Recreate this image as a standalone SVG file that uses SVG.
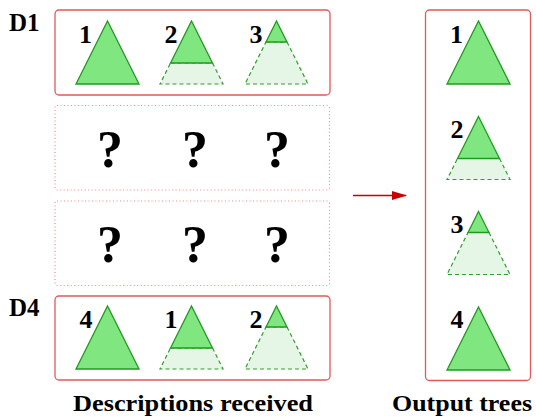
<svg xmlns="http://www.w3.org/2000/svg" xmlns:xlink="http://www.w3.org/1999/xlink" width="536" height="418" viewBox="0 0 536 418">
<style>
.box{fill:none;stroke:#e05a5a;stroke-width:1.3}
.dot{fill:none;stroke:#f08a8a;stroke-width:1.2;stroke-dasharray:1 2.5}
.solid{fill:#80e680;stroke:#1f9a1f;stroke-width:1.3;stroke-linejoin:miter}
.faded{fill:#e6f6e6;stroke:#2fa02f;stroke-width:1.2;stroke-dasharray:4 3}
.lbl{font-family:"Liberation Serif","Times New Roman",serif;font-weight:bold;fill:#000}
.num{font-size:26px;text-anchor:middle}
.q{font-size:52px;text-anchor:middle}
.cap{font-size:25px}
.foot{font-size:24px}
</style>
<defs>
<g id="full"><path class="solid" d="M0,0 L31.5,63 L-31.5,63 Z"/></g>
<g id="two">
<path class="faded" d="M-21,42 L21,42 L31.5,63 L-31.5,63 Z"/>
<path class="solid" d="M0,0 L21,42 L-21,42 Z"/>
</g>
<g id="one">
<path class="faded" d="M-10.5,21 L10.5,21 L31.5,63 L-31.5,63 Z"/>
<path class="solid" d="M0,0 L10.5,21 L-10.5,21 Z"/>
</g>
<marker id="ah" markerWidth="15" markerHeight="9" refX="14" refY="4.5" orient="auto" markerUnits="userSpaceOnUse">
<path d="M0,0 L15,4.5 L0,9 Z" fill="#cc0000"/>
</marker>
</defs>

<g id="D1">
<rect class="box" x="55" y="10" width="275" height="85" rx="4"/>
<text class="lbl cap" x="9" y="31">D1</text>
<use xlink:href="#full" href="#full" x="107.5" y="21"/>
<use xlink:href="#two" href="#two" x="191.5" y="21"/>
<use xlink:href="#one" href="#one" x="276.5" y="21"/>
<text class="lbl num" x="85.5" y="42.5">1</text>
<text class="lbl num" x="171" y="42.5">2</text>
<text class="lbl num" x="256" y="42.5">3</text>
</g>

<g id="D2">
<rect class="dot" x="55" y="105.5" width="274.5" height="84.5" rx="2"/>
<text class="lbl q" x="110" y="166.5">?</text>
<text class="lbl q" x="195" y="166.5">?</text>
<text class="lbl q" x="277" y="166.5">?</text>
</g>

<g id="D3">
<rect class="dot" x="55" y="201" width="274.5" height="84.5" rx="2"/>
<text class="lbl q" x="110" y="261.5">?</text>
<text class="lbl q" x="195" y="261.5">?</text>
<text class="lbl q" x="277" y="261.5">?</text>
</g>

<g id="D4">
<rect class="box" x="55" y="296" width="275" height="84" rx="4"/>
<text class="lbl cap" x="9" y="316">D4</text>
<use xlink:href="#full" href="#full" x="107.5" y="306"/>
<use xlink:href="#two" href="#two" x="191.5" y="306"/>
<use xlink:href="#one" href="#one" x="276.5" y="306"/>
<text class="lbl num" x="86" y="328">4</text>
<text class="lbl num" x="171" y="328">1</text>
<text class="lbl num" x="256" y="328">2</text>
</g>

<g id="output">
<rect class="box" x="425.5" y="10" width="105" height="370.5" rx="4"/>
<use xlink:href="#full" href="#full" x="478.5" y="21"/>
<use xlink:href="#two" href="#two" x="478.5" y="116.5"/>
<use xlink:href="#one" href="#one" x="478.5" y="211.5"/>
<use xlink:href="#full" href="#full" x="478.5" y="307"/>
<text class="lbl num" x="456.5" y="42.5">1</text>
<text class="lbl num" x="457" y="137.5">2</text>
<text class="lbl num" x="457" y="233">3</text>
<text class="lbl num" x="457" y="328">4</text>
</g>

<g id="connectors">
<line x1="353" y1="195.5" x2="406" y2="195.5" stroke="#cc0000" stroke-width="1.6" marker-end="url(#ah)"/>
</g>

<g id="captions">
<text class="lbl foot" x="73" y="411" textLength="240" lengthAdjust="spacingAndGlyphs">Descriptions received</text>
<text class="lbl foot" x="392" y="411" textLength="140" lengthAdjust="spacingAndGlyphs">Output trees</text>
</g>
</svg>
